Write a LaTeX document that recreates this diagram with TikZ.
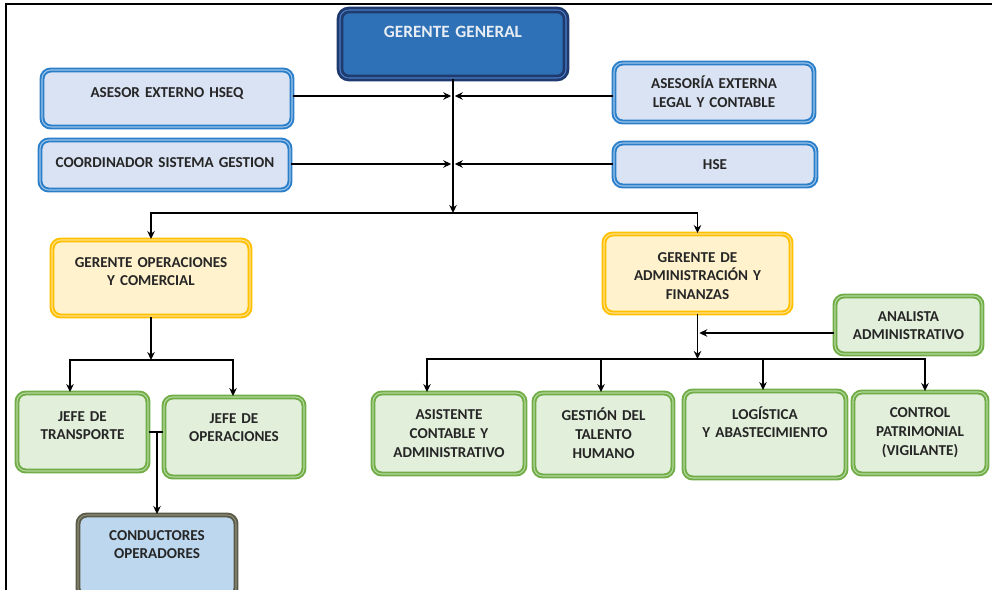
\documentclass[tikz,border=0pt]{standalone}
\usepackage{fontspec}
\setmainfont{Carlito}
\usetikzlibrary{arrows.meta, positioning}
\definecolor{cblue}{HTML}{2A7FCB}
\definecolor{cbluefill}{HTML}{DAE3F3}
\definecolor{cbluelight}{HTML}{9DC3E6}
\definecolor{cyellow}{HTML}{FFC000}
\definecolor{cyellowfill}{HTML}{FFF2CC}
\definecolor{cyellowlight}{HTML}{FFE08A}
\definecolor{cgreen}{HTML}{70AD47}
\definecolor{cgreenfill}{HTML}{E2EFDA}
\definecolor{cgreenlight}{HTML}{B5D89C}
\definecolor{colive}{HTML}{5A5A48}
\definecolor{colivefill}{HTML}{BDD7EE}
\definecolor{colivelight}{HTML}{8C8C78}
\definecolor{cnavy}{HTML}{1F3A6E}
\definecolor{cnavyfill}{HTML}{2E71B6}
\definecolor{cnavylight}{HTML}{4A7CC0}
\definecolor{ctext}{HTML}{262626}
\definecolor{cwhite}{HTML}{E8EDF4}
\tikzset{
  every picture/.style={font=\fontsize{8.6}{10.8}\selectfont\bfseries, line width=1pt},
  box/.style={draw=#1, fill=#1fill, double=#1light, double distance=0.6pt, line width=1.1pt,
    rounded corners=5pt, align=center, inner xsep=2pt, inner ysep=0pt, text=ctext, text height=0.2cm},
  box/.default=cblue,
  arrow/.style={-{Stealth[length=1.6mm, width=1.5mm]}, draw=black, line width=1pt},
  link/.style={draw=black, line width=1pt},
}

\begin{document}
\begin{tikzpicture}
  \useasboundingbox (0,0) rectangle (19.84,-11.78);
  \clip (0,0) rectangle (19.84,-11.78);
  % frame
  \draw[line width=1.3pt] (0.12,-12) -- (0.12,-0.08) -- (20,-0.08);
  % top level
  \node[box=cnavy, text=cwhite, line width=1.6pt, font=\fontsize{9.8}{12}\selectfont\bfseries,
    minimum width=4.52cm, minimum height=1.36cm, text width=4.3cm, text depth=0.44cm] (gg) at (9.06,-0.88) {GERENTE GENERAL};
  \node[box=cblue, minimum width=5.0cm, minimum height=1.14cm, text width=4.7cm, text depth=0.26cm] (hseq) at (3.34,-1.97) {ASESOR EXTERNO HSEQ};
  \node[box=cblue, minimum width=5.0cm, minimum height=1.0cm, text width=4.7cm, text depth=0.12cm] (csg) at (3.30,-3.30) {COORDINADOR SISTEMA GESTION};
  \node[box=cblue, minimum width=4.0cm, minimum height=1.18cm, text width=3.7cm, text depth=0.34cm] (legal) at (14.28,-1.85) {ASESORÍA EXTERNA\\LEGAL Y CONTABLE};
  \node[box=cblue, minimum width=4.04cm, minimum height=0.86cm, text width=3.7cm] (hse) at (14.30,-3.29) {HSE};
  % managers
  \node[box=cyellow, minimum width=3.96cm, minimum height=1.52cm, text width=3.6cm, text depth=0.64cm] (goc) at (3.02,-5.56) {GERENTE OPERACIONES\\Y COMERCIAL};
  \node[box=cyellow, minimum width=3.74cm, minimum height=1.58cm, text width=3.4cm, text depth=0.66cm] (gaf) at (13.95,-5.47) {GERENTE DE\\ADMINISTRACIÓN Y\\FINANZAS};
  \node[box=cgreen, minimum width=2.94cm, minimum height=1.16cm, text width=2.7cm, text depth=0.36cm] (ana) at (18.17,-6.50) {ANALISTA\\ADMINISTRATIVO};
  % operations side
  \node[box=cgreen, minimum width=2.62cm, minimum height=1.56cm, text width=2.4cm, text depth=0.64cm] (jt) at (1.65,-8.64) {JEFE DE\\TRANSPORTE};
  \node[box=cgreen, minimum width=2.80cm, minimum height=1.60cm, text width=2.6cm, text depth=0.76cm] (jo) at (4.68,-8.74) {JEFE DE\\OPERACIONES};
  \node[box=colive, minimum width=3.16cm, minimum height=1.64cm, text width=2.9cm, text depth=0.84cm] (cond) at (3.14,-11.12) {CONDUCTORES\\OPERADORES};
  % administration side
  \node[box=cgreen, minimum width=3.04cm, minimum height=1.62cm, text width=2.8cm] (aca) at (8.98,-8.67) {ASISTENTE\\CONTABLE Y\\ADMINISTRATIVO};
  \node[box=cgreen, minimum width=2.78cm, minimum height=1.66cm, text width=2.5cm] (gth) at (12.07,-8.69) {GESTIÓN DEL\\TALENTO\\HUMANO};
  \node[box=cgreen, minimum width=3.24cm, minimum height=1.74cm, text width=3.0cm, text depth=0.82cm] (log) at (15.30,-8.69) {LOGÍSTICA\\Y ABASTECIMIENTO};
  \node[box=cgreen, minimum width=2.68cm, minimum height=1.64cm, text width=2.4cm] (ctl) at (18.40,-8.66) {CONTROL\\PATRIMONIAL\\(VIGILANTE)};

  \coordinate (j1) at (9.06,-1.92);
  \coordinate (j2) at (9.06,-3.28);
  \coordinate (split) at (9.06,-4.26);
  \coordinate (b2) at (3.02,-7.20);
  \coordinate (b3) at (13.95,-7.18);
  \coordinate (j3) at (13.95,-6.66);

  % connectors
  \draw[arrow] (gg.south) -- (split);
  \draw[arrow, shorten >=1pt] (hseq.east |- j1) -- (j1);
  \draw[arrow, shorten >=1pt] (legal.west |- j1) -- (j1);
  \draw[arrow, shorten >=1pt] (csg.east |- j2) -- (j2);
  \draw[arrow, shorten >=1pt] (hse.west |- j2) -- (j2);
  \draw[arrow] (split) -| (goc.north);
  \draw[arrow] (split) -| (gaf.north);
  \draw[arrow] (goc.south) -- (b2);
  \draw[arrow] (b2) -| ([xshift=-0.25cm]jt.north);
  \draw[arrow] (b2) -| ([xshift=-0.02cm]jo.north);
  \draw[link] (jt.east) -- (jt.east -| jo.west);
  \draw[arrow] (cond.north |- jt.east) -- (cond.north);
  \draw[arrow] (gaf.south) -- (b3);
  \draw[arrow, shorten >=1pt] (ana.west |- j3) -- (j3);
  \draw[arrow] (b3) -| ([xshift=-0.44cm]aca.north);
  \draw[arrow] (b3) -| ([xshift=-0.05cm]gth.north);
  \draw[arrow] (b3) -| ([xshift=-0.04cm]log.north);
  \draw[arrow] (b3) -| ([xshift=0.10cm]ctl.north);
\end{tikzpicture}
\end{document}
